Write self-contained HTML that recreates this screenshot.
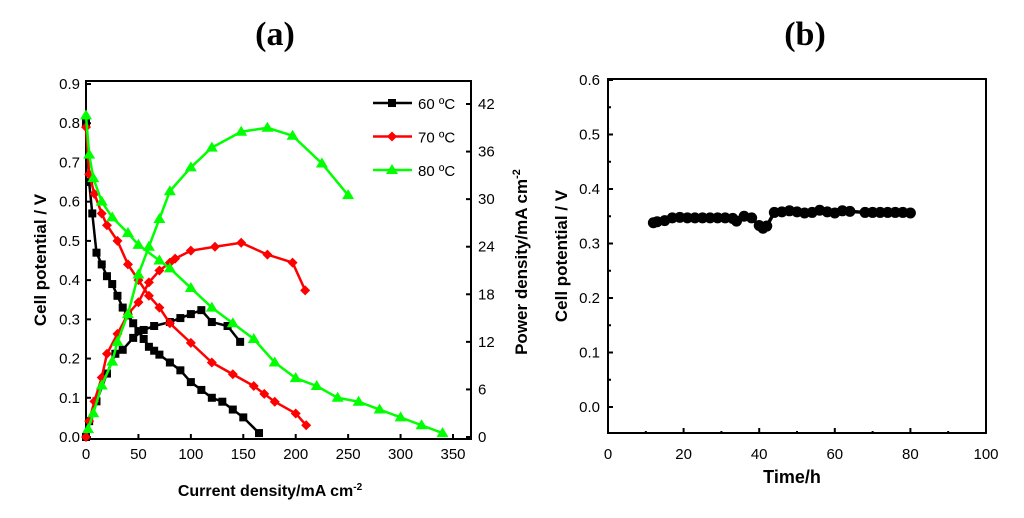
<!DOCTYPE html>
<html><head><meta charset="utf-8"><style>
body{margin:0;background:#fff;}
svg{display:block;font-family:"Liberation Sans",sans-serif;}
</style></head><body>
<svg id="s" width="1024" height="518" viewBox="0 0 1024 518">
<text x="275" y="45" font-family="Liberation Serif" font-weight="bold" font-size="34" text-anchor="middle">(a)</text>
<text x="805" y="45" font-family="Liberation Serif" font-weight="bold" font-size="34" text-anchor="middle">(b)</text>
<g id="ga"></g>
<g id="gb"></g>
<text transform="translate(46,260) rotate(-90)" font-weight="bold" font-size="17" text-anchor="middle">Cell potential / V</text>
<text transform="translate(527,262) rotate(-90)" font-weight="bold" font-size="17" text-anchor="middle">Power density/mA cm<tspan dy="-7" font-size="11">-2</tspan></text>
<text x="270" y="496" font-weight="bold" font-size="16" text-anchor="middle">Current density/mA cm<tspan dy="-6" font-size="10">-2</tspan></text>
<text transform="translate(567,256) rotate(-90)" font-weight="bold" font-size="17" text-anchor="middle">Cell potential / V</text>
<text x="792" y="483" font-weight="bold" font-size="18" text-anchor="middle">Time/h</text>
</svg>
<script>
const xTicksA=[0,50,100,150,200,250,300,350];
const yTicksA=[0,0.1,0.2,0.3,0.4,0.5,0.6,0.7,0.8,0.9];
const y2TicksA=[0,6,12,18,24,30,36,42];
const i60V=[0,3,6,10,15,20,25,30,35,40,45,50,55,60,65,70,80,90,100,110,120,130,140,150,165];
const v60=[0.80,0.65,0.57,0.47,0.44,0.41,0.39,0.36,0.33,0.31,0.29,0.27,0.25,0.23,0.22,0.21,0.19,0.17,0.14,0.12,0.10,0.09,0.07,0.05,0.01];
const i60P=[0,3,10,20,28,35,45,55,65,80,90,100,110,120,135,147];
const p60=[0,2,4.5,8,10.5,11,12.5,13.5,14,14.5,15,15.5,16,14.5,14,12];
const i70V=[0,3,8,15,20,30,40,50,60,70,80,100,120,140,160,170,180,200,210];
const v70=[0.79,0.67,0.62,0.57,0.54,0.50,0.44,0.40,0.36,0.33,0.29,0.24,0.19,0.16,0.13,0.11,0.09,0.06,0.03];
const i70P=[0,3,8,15,20,30,40,50,60,70,80,85,100,123,148,173,197,209];
const p70=[0,2,4.5,7.5,10.5,13,15.5,17,19.5,21,22,22.5,23.5,24,24.5,23,22,18.5];
const i80V=[0,3,7,15,25,40,50,70,80,100,120,140,160,180,200,220,240,260,280,300,320,340];
const v80=[0.82,0.72,0.66,0.60,0.56,0.52,0.49,0.45,0.43,0.38,0.33,0.29,0.25,0.19,0.15,0.13,0.10,0.09,0.07,0.05,0.03,0.01];
const i80P=[2,7,15,25,30,40,50,60,70,80,100,120,148,173,197,225,250];
const p80=[1,3,6.5,9.5,12,15.5,20.5,24,27.5,31,34,36.5,38.5,39,38,34.5,30.5];
const xTicksB=[0,20,40,60,80,100];
const yTicksB=[0,0.1,0.2,0.3,0.4,0.5,0.6];
const tB=[12,13,15,17,19,21,23,25,27,29,31,33,34,36,38,40,41,42,44,46,48,50,52,54,56,58,60,62,64,68,70,72,74,76,78,80];
const vB=[0.338,0.340,0.342,0.347,0.348,0.347,0.347,0.347,0.347,0.347,0.347,0.346,0.341,0.350,0.347,0.333,0.328,0.332,0.357,0.358,0.360,0.358,0.356,0.357,0.361,0.358,0.356,0.360,0.359,0.357,0.357,0.357,0.357,0.357,0.357,0.356];

const NS="http://www.w3.org/2000/svg";
function mk(p,t,a){const e=document.createElementNS(NS,t);for(const k in a)e.setAttribute(k,a[k]);p.appendChild(e);return e;}
const ga=document.getElementById('ga'), gb=document.getElementById('gb');
const xA=v=>86+v*367/350, yA=v=>437-v*392.2, y2A=v=>437-v*333/42;
let e=mk(ga,'rect',{x:86,y:81,width:385,height:358,fill:'none',stroke:'#000','stroke-width':2});


xTicksA.forEach(v=>{mk(ga,'line',{x1:xA(v),x2:xA(v),y1:439,y2:434,stroke:'#000','stroke-width':2});
 const t=mk(ga,'text',{x:xA(v),y:459,'font-size':15,'text-anchor':'middle'});t.textContent=v;
 
 });
yTicksA.forEach(v=>{mk(ga,'line',{x1:86,x2:91,y1:yA(v),y2:yA(v),stroke:'#000','stroke-width':2});
 const t=mk(ga,'text',{x:80,y:yA(v)+5,'font-size':15,'text-anchor':'end'});t.textContent=v.toFixed(1);
 
 });
y2TicksA.forEach(v=>{mk(ga,'line',{x1:466,x2:471,y1:y2A(v),y2:y2A(v),stroke:'#000','stroke-width':2});
 const t=mk(ga,'text',{x:478,y:y2A(v)+5,'font-size':15});t.textContent=v;
 
 });
function marker(g,shape,x,y,c){
 if(shape==='sq')return mk(g,'rect',{x:x-4,y:y-4,width:8,height:8,fill:c});
 if(shape==='di')return mk(g,'polygon',{points:`${x},${y-5} ${x+5},${y} ${x},${y+5} ${x-5},${y}`,fill:c});
 return mk(g,'polygon',{points:`${x},${y-6} ${x+6},${y+4} ${x-6},${y+4}`,fill:c});
}
function series(xs,ys,yf,c,shape,name){
 const g=mk(ga,'g',{});
 
 
 mk(g,'polyline',{points:xs.map((x,i)=>xA(x)+','+yf(ys[i])).join(' '),fill:'none',stroke:c,'stroke-width':2.5});
 xs.forEach((x,i)=>marker(g,shape,xA(x),yf(ys[i]),c));
}
series(i60V,v60,yA,'#000','sq','series-60c-voltage');
series(i60P,p60,y2A,'#000','sq','series-60c-power');
series(i70V,v70,yA,'#f00','di','series-70c-voltage');
series(i70P,p70,y2A,'#f00','di','series-70c-power');
series(i80V,v80,yA,'#0f0','tr','series-80c-voltage');
series(i80P,p80,y2A,'#0f0','tr','series-80c-power');
[['60 ºC','#000','sq'],['70 ºC','#f00','di'],['80 ºC','#0f0','tr']].forEach((l,i)=>{
 const y=103+i*33.5;const g=mk(ga,'g',{});
 
 
 mk(g,'line',{x1:373,x2:412,y1:y,y2:y,stroke:l[1],'stroke-width':2.5});
 marker(g,l[2],392,y,l[1]);
 const t=mk(g,'text',{x:418,y:y+6,'font-size':15});t.textContent=l[0];
});
const xB=v=>608+v*3.78, yB=v=>407-v*545;
e=mk(gb,'rect',{x:608,y:79,width:378,height:354,fill:'none',stroke:'#000','stroke-width':2});


xTicksB.forEach(v=>{mk(gb,'line',{x1:xB(v),x2:xB(v),y1:433,y2:428,stroke:'#000','stroke-width':2});
 if(v<100)mk(gb,'line',{x1:xB(v+10),x2:xB(v+10),y1:433,y2:431,stroke:'#000','stroke-width':2});
 const t=mk(gb,'text',{x:xB(v),y:459,'font-size':15,'text-anchor':'middle'});t.textContent=v;
 
 });
yTicksB.forEach(v=>{mk(gb,'line',{x1:608,x2:613,y1:yB(v),y2:yB(v),stroke:'#000','stroke-width':2});
 if(v<0.6)mk(gb,'line',{x1:608,x2:611,y1:yB(v+0.05),y2:yB(v+0.05),stroke:'#000','stroke-width':2});
 const t=mk(gb,'text',{x:600,y:yB(v)+5,'font-size':15,'text-anchor':'end'});t.textContent=v.toFixed(1);
 
 });
const gs=mk(gb,'g',{});


mk(gs,'polyline',{points:tB.map((t,i)=>xB(t)+','+yB(vB[i])).join(' '),fill:'none',stroke:'#000','stroke-width':3.5});
tB.forEach((t,i)=>mk(gs,'circle',{cx:xB(t),cy:yB(vB[i]),r:5.5,fill:'#000'}));
</script>
</body></html>
